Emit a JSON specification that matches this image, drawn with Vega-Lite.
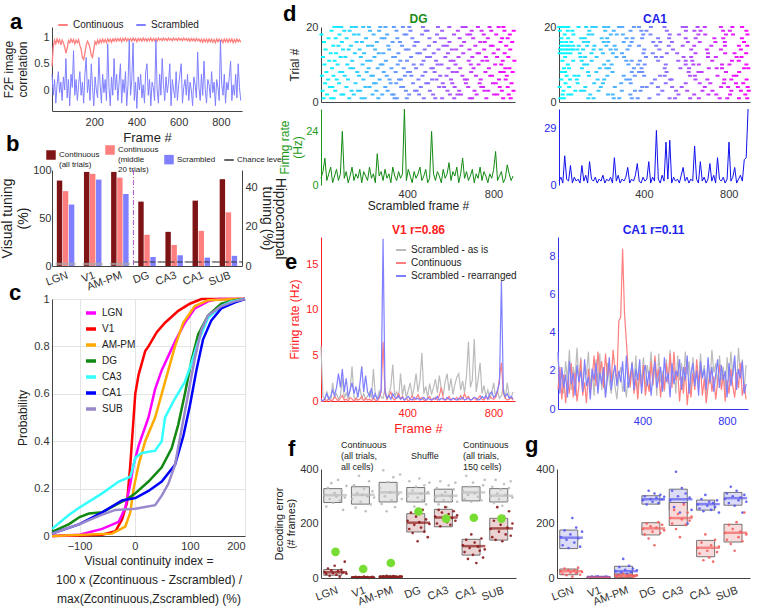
{"$schema":"https://vega.github.io/schema/vega-lite/v6.json","background":"white","padding":{"left":0,"top":3,"right":0,"bottom":0},
"config":{"font":"Liberation Sans","view":{"stroke":null},"axis":{"grid":false,"ticks":false,"labelFontSize":11,"titleFontSize":12,"titleFontWeight":"normal","domainColor":"#444","tickColor":"#444","labelColor":"#333","titleColor":"#222","labelPadding":3,"titlePadding":4},"legend":{"labelFontSize":10,"labelColor":"#222"},"title":{"fontSize":22,"fontWeight":"bold","anchor":"start","frame":"group","color":"#000","baseline":"alphabetic","offset":0}},
"datasets":{
"a":[{"f":0,"c":0.45,"s":0.3},{"f":6,"c":0.82,"s":-0.1},{"f":12,"c":0.95,"s":0.2},{"f":18,"c":0.88,"s":-0.25},{"f":24,"c":0.97,"s":0.1},{"f":30,"c":0.9,"s":0.35},{"f":36,"c":0.96,"s":-0.05},{"f":42,"c":0.86,"s":0.15},{"f":48,"c":0.95,"s":-0.2},{"f":54,"c":0.9,"s":0.25},{"f":60,"c":0.82,"s":0},{"f":66,"c":0.7,"s":0.6},{"f":72,"c":0.8,"s":-0.15},{"f":78,"c":0.94,"s":0.2},{"f":84,"c":0.9,"s":-0.3},{"f":90,"c":0.97,"s":0.3},{"f":96,"c":0.91,"s":0.05},{"f":102,"c":0.96,"s":0.75},{"f":108,"c":0.88,"s":-0.1},{"f":114,"c":0.95,"s":0.2},{"f":120,"c":0.9,"s":-0.2},{"f":126,"c":0.96,"s":0.1},{"f":132,"c":0.85,"s":0.35},{"f":138,"c":0.78,"s":-0.1},{"f":144,"c":0.62,"s":0.15},{"f":150,"c":0.58,"s":-0.25},{"f":156,"c":0.7,"s":0.3},{"f":162,"c":0.86,"s":0.62},{"f":168,"c":0.93,"s":-0.05},{"f":174,"c":0.88,"s":0.2},{"f":180,"c":0.8,"s":-0.2},{"f":186,"c":0.66,"s":0.5},{"f":192,"c":0.62,"s":0.05},{"f":198,"c":0.78,"s":-0.3},{"f":204,"c":0.92,"s":0.25},{"f":210,"c":0.87,"s":0},{"f":216,"c":0.95,"s":-0.15},{"f":222,"c":0.89,"s":0.62},{"f":228,"c":0.96,"s":0.1},{"f":234,"c":0.9,"s":-0.25},{"f":240,"c":0.97,"s":0.3},{"f":246,"c":0.91,"s":-0.05},{"f":252,"c":0.96,"s":0.2},{"f":258,"c":0.9,"s":-0.2},{"f":264,"c":0.97,"s":0.88},{"f":270,"c":0.92,"s":0.05},{"f":276,"c":0.97,"s":-0.3},{"f":282,"c":0.91,"s":0.25},{"f":288,"c":0.97,"s":-0.1},{"f":294,"c":0.93,"s":0.6},{"f":300,"c":0.98,"s":0},{"f":306,"c":0.93,"s":0.3},{"f":312,"c":0.98,"s":-0.2},{"f":318,"c":0.94,"s":0.15},{"f":324,"c":0.98,"s":0.5},{"f":330,"c":0.92,"s":-0.25},{"f":336,"c":0.98,"s":0.2},{"f":342,"c":0.94,"s":-0.05},{"f":348,"c":0.99,"s":0.35},{"f":354,"c":0.93,"s":-0.3},{"f":360,"c":0.98,"s":0.1},{"f":366,"c":0.94,"s":0.95},{"f":372,"c":0.98,"s":-0.1},{"f":378,"c":0.93,"s":0.2},{"f":384,"c":0.99,"s":0.9},{"f":390,"c":0.94,"s":-0.2},{"f":396,"c":0.98,"s":0.15},{"f":402,"c":0.92,"s":-0.35},{"f":408,"c":0.98,"s":0.25},{"f":414,"c":0.94,"s":0},{"f":420,"c":0.98,"s":0.3},{"f":426,"c":0.93,"s":-0.15},{"f":432,"c":0.99,"s":0.1},{"f":438,"c":0.94,"s":-0.25},{"f":444,"c":0.98,"s":0.35},{"f":450,"c":0.93,"s":0.5},{"f":456,"c":0.98,"s":-0.1},{"f":462,"c":0.94,"s":0.2},{"f":468,"c":0.99,"s":-0.3},{"f":474,"c":0.93,"s":0.15},{"f":480,"c":0.98,"s":0.05},{"f":486,"c":0.94,"s":-0.2},{"f":492,"c":0.98,"s":0.95},{"f":498,"c":0.93,"s":0},{"f":504,"c":0.99,"s":-0.25},{"f":510,"c":0.95,"s":0.3},{"f":516,"c":0.98,"s":-0.1},{"f":522,"c":0.94,"s":0.6},{"f":528,"c":0.99,"s":0.1},{"f":534,"c":0.95,"s":-0.2},{"f":540,"c":0.98,"s":0.25},{"f":546,"c":0.94,"s":-0.05},{"f":552,"c":0.99,"s":0.15},{"f":558,"c":0.95,"s":0.5},{"f":564,"c":0.98,"s":-0.3},{"f":570,"c":0.94,"s":0.2},{"f":576,"c":0.99,"s":0},{"f":582,"c":0.95,"s":-0.15},{"f":588,"c":0.98,"s":0.35},{"f":594,"c":0.94,"s":-0.2},{"f":600,"c":0.99,"s":0.1},{"f":606,"c":0.95,"s":0.3},{"f":612,"c":0.98,"s":0.5},{"f":618,"c":0.94,"s":-0.25},{"f":624,"c":0.99,"s":0.05},{"f":630,"c":0.95,"s":0.2},{"f":636,"c":0.98,"s":-0.1},{"f":642,"c":0.94,"s":0.3},{"f":648,"c":0.98,"s":-0.2},{"f":654,"c":0.93,"s":0.15},{"f":660,"c":0.98,"s":0},{"f":666,"c":0.94,"s":-0.3},{"f":672,"c":0.98,"s":0.25},{"f":678,"c":0.93,"s":0.1},{"f":684,"c":0.98,"s":-0.15},{"f":690,"c":0.94,"s":0.72},{"f":696,"c":0.97,"s":0.05},{"f":702,"c":0.92,"s":-0.2},{"f":708,"c":0.97,"s":0.3},{"f":714,"c":0.91,"s":-0.1},{"f":720,"c":0.97,"s":0.55},{"f":726,"c":0.92,"s":0},{"f":732,"c":0.97,"s":-0.25},{"f":738,"c":0.91,"s":0.2},{"f":744,"c":0.97,"s":0.1},{"f":750,"c":0.92,"s":-0.15},{"f":756,"c":0.97,"s":0.35},{"f":762,"c":0.91,"s":-0.05},{"f":768,"c":0.96,"s":0.15},{"f":774,"c":0.9,"s":-0.3},{"f":780,"c":0.97,"s":0.2},{"f":786,"c":0.92,"s":0.05},{"f":792,"c":0.97,"s":-0.2},{"f":798,"c":0.91,"s":0.95},{"f":804,"c":0.96,"s":0.1},{"f":810,"c":0.9,"s":-0.1},{"f":816,"c":0.97,"s":0.3},{"f":822,"c":0.92,"s":-0.25},{"f":828,"c":0.97,"s":0.15},{"f":834,"c":0.91,"s":0},{"f":840,"c":0.97,"s":0.25},{"f":846,"c":0.92,"s":0.55},{"f":852,"c":0.97,"s":-0.2},{"f":858,"c":0.9,"s":0.1},{"f":864,"c":0.96,"s":-0.1},{"f":870,"c":0.91,"s":0.3},{"f":876,"c":0.97,"s":-0.15},{"f":882,"c":0.92,"s":0.5},{"f":888,"c":0.96,"s":0.05},{"f":894,"c":0.91,"s":-0.2}],
"bv":[{"r":"LGN","k":"ca","v":89},{"r":"LGN","k":"cm","v":78},{"r":"LGN","k":"sc","v":64},{"r":"V1","k":"ca","v":98},{"r":"V1","k":"cm","v":96},{"r":"V1","k":"sc","v":90},{"r":"AM-PM","k":"ca","v":98},{"r":"AM-PM","k":"cm","v":92},{"r":"AM-PM","k":"sc","v":75}],
"bh":[{"r":"DG","k":"ca","v":33},{"r":"DG","k":"cm","v":16},{"r":"DG","k":"sc","v":4.6},{"r":"CA3","k":"ca","v":17.5},{"r":"CA3","k":"cm","v":10.8},{"r":"CA3","k":"sc","v":5.5},{"r":"CA1","k":"ca","v":33.5},{"r":"CA1","k":"cm","v":18},{"r":"CA1","k":"sc","v":4.3},{"r":"SUB","k":"ca","v":44.5},{"r":"SUB","k":"cm","v":27.5},{"r":"SUB","k":"sc","v":5.2}],
"c":[{"r":"V1","x":-150,"p":0},{"r":"V1","x":-100,"p":0.002},{"r":"V1","x":-59,"p":0.005},{"r":"V1","x":-35,"p":0.02},{"r":"V1","x":-23,"p":0.07},{"r":"V1","x":-14,"p":0.14},{"r":"V1","x":-8,"p":0.3},{"r":"V1","x":-2,"p":0.5},{"r":"V1","x":1,"p":0.6},{"r":"V1","x":7,"p":0.68},{"r":"V1","x":19,"p":0.78},{"r":"V1","x":25,"p":0.8},{"r":"V1","x":40,"p":0.86},{"r":"V1","x":55,"p":0.9},{"r":"V1","x":79,"p":0.95},{"r":"V1","x":100,"p":0.98},{"r":"V1","x":121,"p":1},{"r":"V1","x":200,"p":1},
{"r":"LGN","x":-150,"p":0},{"r":"LGN","x":-100,"p":0.005},{"r":"LGN","x":-59,"p":0.03},{"r":"LGN","x":-29,"p":0.06},{"r":"LGN","x":-17,"p":0.12},{"r":"LGN","x":-8,"p":0.22},{"r":"LGN","x":-2,"p":0.3},{"r":"LGN","x":7,"p":0.38},{"r":"LGN","x":25,"p":0.5},{"r":"LGN","x":37,"p":0.62},{"r":"LGN","x":49,"p":0.7},{"r":"LGN","x":73,"p":0.82},{"r":"LGN","x":91,"p":0.9},{"r":"LGN","x":109,"p":0.96},{"r":"LGN","x":133,"p":0.99},{"r":"LGN","x":151,"p":1},{"r":"LGN","x":200,"p":1},
{"r":"AM-PM","x":-150,"p":0},{"r":"AM-PM","x":-41,"p":0.01},{"r":"AM-PM","x":-17,"p":0.04},{"r":"AM-PM","x":-8,"p":0.1},{"r":"AM-PM","x":-2,"p":0.2},{"r":"AM-PM","x":7,"p":0.3},{"r":"AM-PM","x":19,"p":0.4},{"r":"AM-PM","x":37,"p":0.5},{"r":"AM-PM","x":55,"p":0.65},{"r":"AM-PM","x":73,"p":0.8},{"r":"AM-PM","x":88,"p":0.9},{"r":"AM-PM","x":109,"p":0.97},{"r":"AM-PM","x":133,"p":0.995},{"r":"AM-PM","x":181,"p":1},{"r":"AM-PM","x":200,"p":1},
{"r":"DG","x":-150,"p":0.017},{"r":"DG","x":-119,"p":0.05},{"r":"DG","x":-100,"p":0.08},{"r":"DG","x":-83,"p":0.095},{"r":"DG","x":-59,"p":0.1},{"r":"DG","x":-35,"p":0.13},{"r":"DG","x":-11,"p":0.16},{"r":"DG","x":1,"p":0.18},{"r":"DG","x":25,"p":0.23},{"r":"DG","x":49,"p":0.29},{"r":"DG","x":67,"p":0.37},{"r":"DG","x":79,"p":0.47},{"r":"DG","x":91,"p":0.6},{"r":"DG","x":103,"p":0.74},{"r":"DG","x":115,"p":0.85},{"r":"DG","x":133,"p":0.93},{"r":"DG","x":157,"p":0.98},{"r":"DG","x":181,"p":0.995},{"r":"DG","x":200,"p":1},
{"r":"CA3","x":-150,"p":0.03},{"r":"CA3","x":-119,"p":0.09},{"r":"CA3","x":-100,"p":0.12},{"r":"CA3","x":-59,"p":0.18},{"r":"CA3","x":-29,"p":0.23},{"r":"CA3","x":-8,"p":0.25},{"r":"CA3","x":-2,"p":0.3},{"r":"CA3","x":1,"p":0.33},{"r":"CA3","x":13,"p":0.35},{"r":"CA3","x":37,"p":0.36},{"r":"CA3","x":49,"p":0.4},{"r":"CA3","x":55,"p":0.5},{"r":"CA3","x":73,"p":0.58},{"r":"CA3","x":91,"p":0.65},{"r":"CA3","x":103,"p":0.73},{"r":"CA3","x":115,"p":0.82},{"r":"CA3","x":133,"p":0.92},{"r":"CA3","x":157,"p":0.97},{"r":"CA3","x":175,"p":0.99},{"r":"CA3","x":200,"p":1},
{"r":"CA1","x":-150,"p":0.01},{"r":"CA1","x":-100,"p":0.05},{"r":"CA1","x":-59,"p":0.1},{"r":"CA1","x":-23,"p":0.15},{"r":"CA1","x":1,"p":0.16},{"r":"CA1","x":25,"p":0.19},{"r":"CA1","x":49,"p":0.23},{"r":"CA1","x":73,"p":0.3},{"r":"CA1","x":88,"p":0.42},{"r":"CA1","x":100,"p":0.55},{"r":"CA1","x":112,"p":0.7},{"r":"CA1","x":124,"p":0.83},{"r":"CA1","x":139,"p":0.91},{"r":"CA1","x":157,"p":0.96},{"r":"CA1","x":181,"p":0.985},{"r":"CA1","x":200,"p":1},
{"r":"SUB","x":-150,"p":0.01},{"r":"SUB","x":-100,"p":0.05},{"r":"SUB","x":-59,"p":0.09},{"r":"SUB","x":-35,"p":0.11},{"r":"SUB","x":1,"p":0.115},{"r":"SUB","x":37,"p":0.13},{"r":"SUB","x":49,"p":0.17},{"r":"SUB","x":61,"p":0.22},{"r":"SUB","x":73,"p":0.3},{"r":"SUB","x":85,"p":0.45},{"r":"SUB","x":97,"p":0.6},{"r":"SUB","x":109,"p":0.75},{"r":"SUB","x":121,"p":0.87},{"r":"SUB","x":133,"p":0.93},{"r":"SUB","x":157,"p":0.97},{"r":"SUB","x":181,"p":0.99},{"r":"SUB","x":200,"p":1}],
"dgr":[{"t":1,"f":12},{"t":1,"f":47},{"t":1,"f":59},{"t":1,"f":131},{"t":1,"f":188},{"t":1,"f":203},{"t":1,"f":266},{"t":1,"f":341},{"t":1,"f":352},{"t":1,"f":398},{"t":1,"f":477},{"t":1,"f":530},{"t":1,"f":562},{"t":1,"f":618},{"t":1,"f":690},{"t":1,"f":701},{"t":1,"f":767},{"t":1,"f":845},{"t":1,"f":880},
{"t":2,"f":28},{"t":2,"f":95},{"t":2,"f":104},{"t":2,"f":152},{"t":2,"f":239},{"t":2,"f":284},{"t":2,"f":330},{"t":2,"f":337},{"t":2,"f":409},{"t":2,"f":455},{"t":2,"f":520},{"t":2,"f":598},{"t":2,"f":633},{"t":2,"f":649},{"t":2,"f":722},{"t":2,"f":803},{"t":2,"f":818},{"t":2,"f":871},
{"t":3,"f":7},{"t":3,"f":66},{"t":3,"f":142},{"t":3,"f":171},{"t":3,"f":182},{"t":3,"f":257},{"t":3,"f":309},{"t":3,"f":394},{"t":3,"f":436},{"t":3,"f":444},{"t":3,"f":505},{"t":3,"f":587},{"t":3,"f":641},{"t":3,"f":712},{"t":3,"f":758},{"t":3,"f":776},{"t":3,"f":839},{"t":3,"f":893},
{"t":4,"f":41},{"t":4,"f":53},{"t":4,"f":118},{"t":4,"f":206},{"t":4,"f":225},{"t":4,"f":298},{"t":4,"f":372},{"t":4,"f":381},{"t":4,"f":463},{"t":4,"f":548},{"t":4,"f":571},{"t":4,"f":620},{"t":4,"f":683},{"t":4,"f":744},{"t":4,"f":752},{"t":4,"f":829},{"t":4,"f":866},
{"t":5,"f":19},{"t":5,"f":84},{"t":5,"f":160},{"t":5,"f":246},{"t":5,"f":254},{"t":5,"f":323},{"t":5,"f":349},{"t":5,"f":427},{"t":5,"f":488},{"t":5,"f":497},{"t":5,"f":565},{"t":5,"f":609},{"t":5,"f":672},{"t":5,"f":736},{"t":5,"f":798},{"t":5,"f":811},{"t":5,"f":884},
{"t":6,"f":33},{"t":6,"f":73},{"t":6,"f":125},{"t":6,"f":197},{"t":6,"f":272},{"t":6,"f":318},{"t":6,"f":362},{"t":6,"f":371},{"t":6,"f":452},{"t":6,"f":515},{"t":6,"f":536},{"t":6,"f":603},{"t":6,"f":667},{"t":6,"f":677},{"t":6,"f":741},{"t":6,"f":826},{"t":6,"f":857},
{"t":7,"f":4},{"t":7,"f":58},{"t":7,"f":110},{"t":7,"f":176},{"t":7,"f":234},{"t":7,"f":241},{"t":7,"f":305},{"t":7,"f":389},{"t":7,"f":419},{"t":7,"f":471},{"t":7,"f":553},{"t":7,"f":582},{"t":7,"f":656},{"t":7,"f":719},{"t":7,"f":785},{"t":7,"f":794},{"t":7,"f":862},
{"t":8,"f":25},{"t":8,"f":89},{"t":8,"f":99},{"t":8,"f":168},{"t":8,"f":212},{"t":8,"f":291},{"t":8,"f":346},{"t":8,"f":403},{"t":8,"f":413},{"t":8,"f":484},{"t":8,"f":527},{"t":8,"f":611},{"t":8,"f":630},{"t":8,"f":697},{"t":8,"f":763},{"t":8,"f":832},{"t":8,"f":848},{"t":8,"f":889},
{"t":9,"f":51},{"t":9,"f":136},{"t":9,"f":149},{"t":9,"f":221},{"t":9,"f":263},{"t":9,"f":327},{"t":9,"f":384},{"t":9,"f":441},{"t":9,"f":512},{"t":9,"f":519},{"t":9,"f":591},{"t":9,"f":646},{"t":9,"f":708},{"t":9,"f":779},{"t":9,"f":855},{"t":9,"f":874},
{"t":10,"f":16},{"t":10,"f":77},{"t":10,"f":122},{"t":10,"f":193},{"t":10,"f":277},{"t":10,"f":285},{"t":10,"f":356},{"t":10,"f":430},{"t":10,"f":467},{"t":10,"f":541},{"t":10,"f":559},{"t":10,"f":624},{"t":10,"f":695},{"t":10,"f":731},{"t":10,"f":808},{"t":10,"f":836},
{"t":11,"f":38},{"t":11,"f":63},{"t":11,"f":145},{"t":11,"f":214},{"t":11,"f":230},{"t":11,"f":301},{"t":11,"f":368},{"t":11,"f":399},{"t":11,"f":476},{"t":11,"f":534},{"t":11,"f":601},{"t":11,"f":615},{"t":11,"f":685},{"t":11,"f":749},{"t":11,"f":771},{"t":11,"f":843},{"t":11,"f":897},
{"t":12,"f":9},{"t":12,"f":91},{"t":12,"f":113},{"t":12,"f":185},{"t":12,"f":248},{"t":12,"f":335},{"t":12,"f":343},{"t":12,"f":418},{"t":12,"f":492},{"t":12,"f":506},{"t":12,"f":577},{"t":12,"f":638},{"t":12,"f":702},{"t":12,"f":765},{"t":12,"f":817},{"t":12,"f":869},
{"t":13,"f":45},{"t":13,"f":70},{"t":13,"f":157},{"t":13,"f":200},{"t":13,"f":268},{"t":13,"f":289},{"t":13,"f":359},{"t":13,"f":447},{"t":13,"f":459},{"t":13,"f":523},{"t":13,"f":589},{"t":13,"f":660},{"t":13,"f":726},{"t":13,"f":733},{"t":13,"f":801},{"t":13,"f":852},
{"t":14,"f":21},{"t":14,"f":102},{"t":14,"f":128},{"t":14,"f":179},{"t":14,"f":251},{"t":14,"f":316},{"t":14,"f":393},{"t":14,"f":406},{"t":14,"f":481},{"t":14,"f":545},{"t":14,"f":607},{"t":14,"f":627},{"t":14,"f":689},{"t":14,"f":757},{"t":14,"f":822},{"t":14,"f":878},
{"t":15,"f":57},{"t":15,"f":81},{"t":15,"f":139},{"t":15,"f":218},{"t":15,"f":237},{"t":15,"f":312},{"t":15,"f":376},{"t":15,"f":433},{"t":15,"f":501},{"t":15,"f":568},{"t":15,"f":584},{"t":15,"f":651},{"t":15,"f":716},{"t":15,"f":788},{"t":15,"f":796},{"t":15,"f":859},
{"t":16,"f":14},{"t":16,"f":97},{"t":16,"f":165},{"t":16,"f":190},{"t":16,"f":259},{"t":16,"f":332},{"t":16,"f":366},{"t":16,"f":439},{"t":16,"f":449},{"t":16,"f":528},{"t":16,"f":596},{"t":16,"f":664},{"t":16,"f":739},{"t":16,"f":760},{"t":16,"f":833},{"t":16,"f":887},
{"t":17,"f":35},{"t":17,"f":68},{"t":17,"f":119},{"t":17,"f":209},{"t":17,"f":281},{"t":17,"f":295},{"t":17,"f":354},{"t":17,"f":424},{"t":17,"f":503},{"t":17,"f":556},{"t":17,"f":574},{"t":17,"f":643},{"t":17,"f":706},{"t":17,"f":774},{"t":17,"f":840},{"t":17,"f":866},
{"t":18,"f":2},{"t":18,"f":86},{"t":18,"f":153},{"t":18,"f":174},{"t":18,"f":244},{"t":18,"f":307},{"t":18,"f":387},{"t":18,"f":396},{"t":18,"f":469},{"t":18,"f":538},{"t":18,"f":617},{"t":18,"f":679},{"t":18,"f":692},{"t":18,"f":755},{"t":18,"f":813},{"t":18,"f":876},
{"t":19,"f":49},{"t":19,"f":108},{"t":19,"f":133},{"t":19,"f":227},{"t":19,"f":270},{"t":19,"f":350},{"t":19,"f":415},{"t":19,"f":486},{"t":19,"f":494},{"t":19,"f":562},{"t":19,"f":635},{"t":19,"f":699},{"t":19,"f":745},{"t":19,"f":790},{"t":19,"f":851},{"t":19,"f":894},
{"t":20,"f":62},{"t":20,"f":79},{"t":20,"f":94},{"t":20,"f":143},{"t":20,"f":162},{"t":20,"f":196},{"t":20,"f":223},{"t":20,"f":275},{"t":20,"f":299},{"t":20,"f":338},{"t":20,"f":380},{"t":20,"f":410},{"t":20,"f":473},{"t":20,"f":543},{"t":20,"f":595},{"t":20,"f":657},{"t":20,"f":671},{"t":20,"f":728},{"t":20,"f":782},{"t":20,"f":824},{"t":20,"f":846}],
"car":[{"t":1,"f":6},{"t":1,"f":23},{"t":1,"f":138},{"t":1,"f":163},{"t":1,"f":258},{"t":1,"f":284},{"t":1,"f":343},{"t":1,"f":371},{"t":1,"f":426},{"t":1,"f":521},{"t":1,"f":547},{"t":1,"f":618},{"t":1,"f":659},{"t":1,"f":757},{"t":1,"f":793},{"t":1,"f":848},{"t":1,"f":887},
{"t":2,"f":17},{"t":2,"f":44},{"t":2,"f":58},{"t":2,"f":147},{"t":2,"f":231},{"t":2,"f":253},{"t":2,"f":336},{"t":2,"f":468},{"t":2,"f":563},{"t":2,"f":637},{"t":2,"f":704},{"t":2,"f":741},{"t":2,"f":806},{"t":2,"f":878},
{"t":3,"f":21},{"t":3,"f":77},{"t":3,"f":103},{"t":3,"f":119},{"t":3,"f":186},{"t":3,"f":296},{"t":3,"f":358},{"t":3,"f":384},{"t":3,"f":487},{"t":3,"f":552},{"t":3,"f":604},{"t":3,"f":676},{"t":3,"f":723},{"t":3,"f":812},{"t":3,"f":857},{"t":3,"f":894},
{"t":4,"f":3},{"t":4,"f":48},{"t":4,"f":124},{"t":4,"f":197},{"t":4,"f":263},{"t":4,"f":392},{"t":4,"f":413},{"t":4,"f":466},{"t":4,"f":533},{"t":4,"f":578},{"t":4,"f":687},{"t":4,"f":764},{"t":4,"f":797},{"t":4,"f":843},{"t":4,"f":889},
{"t":5,"f":31},{"t":5,"f":88},{"t":5,"f":166},{"t":5,"f":207},{"t":5,"f":293},{"t":5,"f":338},{"t":5,"f":437},{"t":5,"f":503},{"t":5,"f":597},{"t":5,"f":663},{"t":5,"f":713},{"t":5,"f":777},{"t":5,"f":834},{"t":5,"f":868},
{"t":6,"f":11},{"t":6,"f":52},{"t":6,"f":84},{"t":6,"f":182},{"t":6,"f":213},{"t":6,"f":317},{"t":6,"f":334},{"t":6,"f":452},{"t":6,"f":524},{"t":6,"f":531},{"t":6,"f":643},{"t":6,"f":699},{"t":6,"f":779},{"t":6,"f":812},{"t":6,"f":884},
{"t":7,"f":36},{"t":7,"f":73},{"t":7,"f":92},{"t":7,"f":141},{"t":7,"f":228},{"t":7,"f":305},{"t":7,"f":357},{"t":7,"f":401},{"t":7,"f":476},{"t":7,"f":498},{"t":7,"f":617},{"t":7,"f":640},{"t":7,"f":747},{"t":7,"f":823},{"t":7,"f":836},
{"t":8,"f":13},{"t":8,"f":29},{"t":8,"f":137},{"t":8,"f":176},{"t":8,"f":252},{"t":8,"f":343},{"t":8,"f":377},{"t":8,"f":392},{"t":8,"f":507},{"t":8,"f":611},{"t":8,"f":657},{"t":8,"f":672},{"t":8,"f":787},{"t":8,"f":849},
{"t":9,"f":24},{"t":9,"f":47},{"t":9,"f":108},{"t":9,"f":192},{"t":9,"f":223},{"t":9,"f":236},{"t":9,"f":353},{"t":9,"f":389},{"t":9,"f":498},{"t":9,"f":572},{"t":9,"f":613},{"t":9,"f":706},{"t":9,"f":743},{"t":9,"f":768},{"t":9,"f":872},{"t":9,"f":892},
{"t":10,"f":42},{"t":10,"f":118},{"t":10,"f":133},{"t":10,"f":213},{"t":10,"f":248},{"t":10,"f":327},{"t":10,"f":373},{"t":10,"f":404},{"t":10,"f":503},{"t":10,"f":597},{"t":10,"f":633},{"t":10,"f":659},{"t":10,"f":768},{"t":10,"f":803},{"t":10,"f":883},
{"t":11,"f":16},{"t":11,"f":67},{"t":11,"f":107},{"t":11,"f":154},{"t":11,"f":232},{"t":11,"f":317},{"t":11,"f":342},{"t":11,"f":381},{"t":11,"f":467},{"t":11,"f":562},{"t":11,"f":597},{"t":11,"f":628},{"t":11,"f":722},{"t":11,"f":815},{"t":11,"f":847},
{"t":12,"f":29},{"t":12,"f":101},{"t":12,"f":123},{"t":12,"f":177},{"t":12,"f":271},{"t":12,"f":307},{"t":12,"f":410},{"t":12,"f":457},{"t":12,"f":484},{"t":12,"f":587},{"t":12,"f":623},{"t":12,"f":702},{"t":12,"f":739},{"t":12,"f":837},{"t":12,"f":860},
{"t":13,"f":3},{"t":13,"f":19},{"t":13,"f":37},{"t":13,"f":54},{"t":13,"f":98},{"t":13,"f":153},{"t":13,"f":207},{"t":13,"f":254},{"t":13,"f":297},{"t":13,"f":398},{"t":13,"f":442},{"t":13,"f":508},{"t":13,"f":557},{"t":13,"f":643},{"t":13,"f":702},{"t":13,"f":783},{"t":13,"f":827},{"t":13,"f":882},
{"t":14,"f":5},{"t":14,"f":17},{"t":14,"f":31},{"t":14,"f":43},{"t":14,"f":57},{"t":14,"f":68},{"t":14,"f":87},{"t":14,"f":113},{"t":14,"f":163},{"t":14,"f":197},{"t":14,"f":243},{"t":14,"f":268},{"t":14,"f":323},{"t":14,"f":402},{"t":14,"f":473},{"t":14,"f":537},{"t":14,"f":623},{"t":14,"f":697},{"t":14,"f":763},{"t":14,"f":857},
{"t":15,"f":9},{"t":15,"f":21},{"t":15,"f":38},{"t":15,"f":48},{"t":15,"f":67},{"t":15,"f":93},{"t":15,"f":133},{"t":15,"f":167},{"t":15,"f":223},{"t":15,"f":262},{"t":15,"f":333},{"t":15,"f":377},{"t":15,"f":458},{"t":15,"f":517},{"t":15,"f":583},{"t":15,"f":637},{"t":15,"f":718},{"t":15,"f":782},{"t":15,"f":848},{"t":15,"f":887},
{"t":16,"f":13},{"t":16,"f":34},{"t":16,"f":58},{"t":16,"f":117},{"t":16,"f":137},{"t":16,"f":211},{"t":16,"f":232},{"t":16,"f":305},{"t":16,"f":342},{"t":16,"f":444},{"t":16,"f":477},{"t":16,"f":532},{"t":16,"f":607},{"t":16,"f":663},{"t":16,"f":737},{"t":16,"f":781},{"t":16,"f":872},
{"t":17,"f":11},{"t":17,"f":43},{"t":17,"f":104},{"t":17,"f":122},{"t":17,"f":201},{"t":17,"f":227},{"t":17,"f":318},{"t":17,"f":347},{"t":17,"f":392},{"t":17,"f":467},{"t":17,"f":519},{"t":17,"f":597},{"t":17,"f":644},{"t":17,"f":732},{"t":17,"f":774},{"t":17,"f":862},
{"t":18,"f":27},{"t":18,"f":68},{"t":18,"f":139},{"t":18,"f":157},{"t":18,"f":244},{"t":18,"f":272},{"t":18,"f":301},{"t":18,"f":397},{"t":18,"f":431},{"t":18,"f":522},{"t":18,"f":566},{"t":18,"f":657},{"t":18,"f":689},{"t":18,"f":787},{"t":18,"f":820},{"t":18,"f":888},
{"t":19,"f":4},{"t":19,"f":41},{"t":19,"f":63},{"t":19,"f":143},{"t":19,"f":218},{"t":19,"f":258},{"t":19,"f":337},{"t":19,"f":388},{"t":19,"f":412},{"t":19,"f":508},{"t":19,"f":598},{"t":19,"f":638},{"t":19,"f":667},{"t":19,"f":773},{"t":19,"f":805},{"t":19,"f":883},
{"t":20,"f":1},{"t":20,"f":14},{"t":20,"f":32},{"t":20,"f":44},{"t":20,"f":92},{"t":20,"f":128},{"t":20,"f":157},{"t":20,"f":173},{"t":20,"f":213},{"t":20,"f":232},{"t":20,"f":283},{"t":20,"f":298},{"t":20,"f":353},{"t":20,"f":377},{"t":20,"f":433},{"t":20,"f":497},{"t":20,"f":583},{"t":20,"f":598},{"t":20,"f":653},{"t":20,"f":687},{"t":20,"f":763},{"t":20,"f":817},{"t":20,"f":863}],
"dr":[{"f":0,"dg":3,"ca":2},{"f":9,"dg":6,"ca":4},{"f":18,"dg":12,"ca":1},{"f":27,"dg":2,"ca":15},{"f":36,"dg":5,"ca":3},{"f":45,"dg":8,"ca":2},{"f":54,"dg":1,"ca":10},{"f":63,"dg":4,"ca":1},{"f":72,"dg":7,"ca":4},{"f":81,"dg":2,"ca":2},{"f":90,"dg":5,"ca":3},{"f":99,"dg":24,"ca":1},{"f":108,"dg":3,"ca":10},{"f":117,"dg":6,"ca":2},{"f":126,"dg":1,"ca":5},{"f":135,"dg":4,"ca":1},{"f":144,"dg":8,"ca":12},{"f":153,"dg":2,"ca":3},{"f":162,"dg":5,"ca":2},{"f":171,"dg":3,"ca":4},{"f":180,"dg":7,"ca":1},{"f":189,"dg":1,"ca":3},{"f":198,"dg":6,"ca":2},{"f":207,"dg":4,"ca":5},{"f":216,"dg":2,"ca":1},{"f":225,"dg":8,"ca":3},{"f":234,"dg":3,"ca":2},{"f":243,"dg":5,"ca":4},{"f":252,"dg":1,"ca":1},{"f":261,"dg":14,"ca":14},{"f":270,"dg":4,"ca":2},{"f":279,"dg":6,"ca":5},{"f":288,"dg":2,"ca":1},{"f":297,"dg":7,"ca":3},{"f":306,"dg":3,"ca":2},{"f":315,"dg":5,"ca":4},{"f":324,"dg":1,"ca":9},{"f":333,"dg":8,"ca":1},{"f":342,"dg":4,"ca":3},{"f":351,"dg":2,"ca":2},{"f":360,"dg":6,"ca":5},{"f":369,"dg":3,"ca":11},{"f":378,"dg":5,"ca":2},{"f":387,"dg":34,"ca":1},{"f":396,"dg":2,"ca":4},{"f":405,"dg":7,"ca":2},{"f":414,"dg":4,"ca":3},{"f":423,"dg":1,"ca":12},{"f":432,"dg":6,"ca":1},{"f":441,"dg":3,"ca":4},{"f":450,"dg":5,"ca":2},{"f":459,"dg":8,"ca":28},{"f":468,"dg":2,"ca":3},{"f":477,"dg":4,"ca":1},{"f":486,"dg":7,"ca":5},{"f":495,"dg":1,"ca":2},{"f":504,"dg":3,"ca":22},{"f":513,"dg":24,"ca":3},{"f":522,"dg":5,"ca":23},{"f":531,"dg":2,"ca":1},{"f":540,"dg":6,"ca":4},{"f":549,"dg":4,"ca":2},{"f":558,"dg":1,"ca":3},{"f":567,"dg":7,"ca":1},{"f":576,"dg":3,"ca":5},{"f":585,"dg":5,"ca":9},{"f":594,"dg":10,"ca":2},{"f":603,"dg":2,"ca":4},{"f":612,"dg":6,"ca":1},{"f":621,"dg":4,"ca":3},{"f":630,"dg":8,"ca":2},{"f":639,"dg":1,"ca":20},{"f":648,"dg":5,"ca":3},{"f":657,"dg":12,"ca":1},{"f":666,"dg":3,"ca":12},{"f":675,"dg":6,"ca":2},{"f":684,"dg":2,"ca":4},{"f":693,"dg":4,"ca":1},{"f":702,"dg":7,"ca":3},{"f":711,"dg":1,"ca":11},{"f":720,"dg":5,"ca":2},{"f":729,"dg":3,"ca":5},{"f":738,"dg":8,"ca":1},{"f":747,"dg":2,"ca":14},{"f":756,"dg":6,"ca":3},{"f":765,"dg":4,"ca":2},{"f":774,"dg":1,"ca":4},{"f":783,"dg":5,"ca":1},{"f":792,"dg":3,"ca":3},{"f":801,"dg":7,"ca":22},{"f":810,"dg":15,"ca":2},{"f":819,"dg":2,"ca":4},{"f":828,"dg":4,"ca":9},{"f":837,"dg":6,"ca":1},{"f":846,"dg":1,"ca":3},{"f":855,"dg":3,"ca":5},{"f":864,"dg":9,"ca":2},{"f":873,"dg":5,"ca":13},{"f":882,"dg":2,"ca":14},{"f":891,"dg":4,"ca":39}],
"ev":[{"f":0,"g":6,"r":0.1,"b":0.2},{"f":9,"g":0.5,"r":0,"b":0},{"f":18,"g":0.2,"r":0.2,"b":0.3},{"f":27,"g":1,"r":0,"b":0.8},{"f":36,"g":0.3,"r":0.3,"b":0.2},{"f":45,"g":0,"r":0,"b":0.5},{"f":54,"g":2,"r":0.1,"b":1.2},{"f":63,"g":0.4,"r":0.5,"b":0.6},{"f":72,"g":0.8,"r":0.2,"b":1.5},{"f":81,"g":0.2,"r":0,"b":3},{"f":90,"g":0.6,"r":0.3,"b":1.5},{"f":99,"g":2.5,"r":0.6,"b":3.5},{"f":108,"g":0.3,"r":0.1,"b":1},{"f":117,"g":0.9,"r":0.2,"b":2.5},{"f":126,"g":0.2,"r":0,"b":0.5},{"f":135,"g":1.2,"r":0.4,"b":1.2},{"f":144,"g":3.8,"r":0.2,"b":2},{"f":153,"g":0.4,"r":0,"b":0.8},{"f":162,"g":0.1,"r":0.3,"b":1.6},{"f":171,"g":0.7,"r":0.1,"b":0.4},{"f":180,"g":1.5,"r":0.2,"b":1.8},{"f":189,"g":0.3,"r":0.5,"b":3.8},{"f":198,"g":0.8,"r":0,"b":1},{"f":207,"g":0.2,"r":0.3,"b":2.8},{"f":216,"g":0.5,"r":0.1,"b":1},{"f":225,"g":1,"r":0.2,"b":0.5},{"f":234,"g":0.3,"r":0,"b":1.4},{"f":243,"g":3.5,"r":0.4,"b":0.3},{"f":252,"g":0.6,"r":0.1,"b":0.8},{"f":261,"g":0.2,"r":0,"b":0.2},{"f":270,"g":1.1,"r":0.3,"b":0.5},{"f":279,"g":0.4,"r":1,"b":1.2},{"f":288,"g":0.3,"r":6.5,"b":17.8},{"f":297,"g":1.4,"r":0.8,"b":1},{"f":306,"g":0.2,"r":0.2,"b":0.3},{"f":315,"g":0.8,"r":0.5,"b":0.6},{"f":324,"g":1.6,"r":1,"b":0.2},{"f":333,"g":4,"r":0.3,"b":0.8},{"f":342,"g":0.5,"r":0.1,"b":0.4},{"f":351,"g":1,"r":0.4,"b":0.3},{"f":360,"g":0.3,"r":0.8,"b":0.6},{"f":369,"g":3,"r":0.2,"b":0.2},{"f":378,"g":0.6,"r":0.5,"b":0.4},{"f":387,"g":1.8,"r":0.1,"b":0.1},{"f":396,"g":0.4,"r":0.3,"b":0.3},{"f":405,"g":1.2,"r":0,"b":0.5},{"f":414,"g":2,"r":0.2,"b":0.2},{"f":423,"g":0.5,"r":0.6,"b":0.1},{"f":432,"g":1.5,"r":0.1,"b":0.4},{"f":441,"g":3,"r":0.3,"b":0.2},{"f":450,"g":1,"r":0.7,"b":0.3},{"f":459,"g":2.2,"r":0.2,"b":0.1},{"f":468,"g":5.3,"r":0.4,"b":0.2},{"f":477,"g":0.8,"r":0.1,"b":0.4},{"f":486,"g":1.6,"r":0,"b":0.1},{"f":495,"g":0.4,"r":0.3,"b":0.3},{"f":504,"g":1.9,"r":0.5,"b":0.2},{"f":513,"g":0.7,"r":0.1,"b":0.1},{"f":522,"g":1.5,"r":0.2,"b":0.3},{"f":531,"g":2.4,"r":0.4,"b":0.2},{"f":540,"g":0.9,"r":0.1,"b":0.5},{"f":549,"g":2.8,"r":0.6,"b":0.1},{"f":558,"g":1.3,"r":1.5,"b":0.3},{"f":567,"g":0.6,"r":0.3,"b":0.2},{"f":576,"g":2.1,"r":0.1,"b":0.1},{"f":585,"g":3,"r":0.2,"b":0.4},{"f":594,"g":1.1,"r":0.5,"b":0.2},{"f":603,"g":2.5,"r":0.1,"b":0.1},{"f":612,"g":0.7,"r":0.3,"b":0.3},{"f":621,"g":1.8,"r":0.2,"b":0.2},{"f":630,"g":2.6,"r":0.4,"b":0.1},{"f":639,"g":3,"r":0.1,"b":0.3},{"f":648,"g":1.2,"r":0.6,"b":0.2},{"f":657,"g":2.2,"r":0.2,"b":0.4},{"f":666,"g":0.9,"r":0.8,"b":0.1},{"f":675,"g":2.8,"r":0.3,"b":0.2},{"f":684,"g":6.5,"r":0.5,"b":0.3},{"f":693,"g":1.5,"r":0.1,"b":0.1},{"f":702,"g":2.3,"r":0.2,"b":0.2},{"f":711,"g":6.8,"r":0.4,"b":0.4},{"f":720,"g":1,"r":0.1,"b":0.3},{"f":729,"g":2.4,"r":0.3,"b":0.1},{"f":738,"g":4.2,"r":0.6,"b":0.2},{"f":747,"g":0.8,"r":0.2,"b":0.5},{"f":756,"g":1.7,"r":0.1,"b":0.3},{"f":765,"g":0.5,"r":0.4,"b":0.6},{"f":774,"g":1.2,"r":0.2,"b":0.2},{"f":783,"g":0.3,"r":0.5,"b":0.8},{"f":792,"g":0.9,"r":0.3,"b":1},{"f":801,"g":2,"r":0.2,"b":0.4},{"f":810,"g":0.4,"r":0.4,"b":0.6},{"f":819,"g":1.1,"r":1,"b":1.2},{"f":828,"g":0.3,"r":2.5,"b":2},{"f":837,"g":0.6,"r":4.2,"b":13.2},{"f":846,"g":1.5,"r":0.8,"b":1},{"f":855,"g":0.2,"r":0.3,"b":0.5},{"f":864,"g":2,"r":0.1,"b":0.8},{"f":873,"g":0.5,"r":0.2,"b":0.3},{"f":882,"g":0.3,"r":0.4,"b":0.5},{"f":891,"g":1,"r":0.1,"b":0.2}],
"ec":[{"f":0,"g":2.8,"r":1,"b":3},{"f":9,"g":1.2,"r":2.2,"b":0.8},{"f":18,"g":2,"r":0.5,"b":2.2},{"f":27,"g":0.8,"r":1.8,"b":1.1},{"f":36,"g":2.5,"r":0.3,"b":1.8},{"f":45,"g":1.5,"r":1.5,"b":0.6},{"f":54,"g":3.1,"r":0.8,"b":2.5},{"f":63,"g":1,"r":2.4,"b":1.3},{"f":72,"g":2.2,"r":0.6,"b":1.9},{"f":81,"g":1.6,"r":1.9,"b":0.7},{"f":90,"g":3.2,"r":0.4,"b":2.3},{"f":99,"g":1.4,"r":1.2,"b":1.4},{"f":108,"g":2.7,"r":2.6,"b":2},{"f":117,"g":0.9,"r":0.7,"b":0.9},{"f":126,"g":2.3,"r":1.4,"b":2.6},{"f":135,"g":1.8,"r":0.3,"b":1.2},{"f":144,"g":3,"r":2.1,"b":1.7},{"f":153,"g":1.1,"r":0.9,"b":0.5},{"f":162,"g":2.1,"r":1.6,"b":2.1},{"f":171,"g":0.7,"r":2.8,"b":1.5},{"f":180,"g":2.6,"r":1.2,"b":2.4},{"f":189,"g":1.3,"r":3,"b":0.8},{"f":198,"g":2.9,"r":1.8,"b":1.9},{"f":207,"g":1,"r":2.5,"b":1.3},{"f":216,"g":1.9,"r":1.1,"b":2.2},{"f":225,"g":0.6,"r":2.9,"b":0.6},{"f":234,"g":2.4,"r":1.7,"b":1.6},{"f":243,"g":1.5,"r":2.2,"b":2.7},{"f":252,"g":0.8,"r":1.4,"b":1},{"f":261,"g":2,"r":3.1,"b":1.8},{"f":270,"g":1.2,"r":2,"b":2.3},{"f":279,"g":0.5,"r":1.5,"b":1.2},{"f":288,"g":1.7,"r":4.6,"b":2},{"f":297,"g":2.2,"r":4.8,"b":1.4},{"f":306,"g":0.9,"r":8.4,"b":2.5},{"f":315,"g":1.4,"r":5,"b":0.9},{"f":324,"g":0.6,"r":3.5,"b":2.8},{"f":333,"g":1.9,"r":2,"b":1.1},{"f":342,"g":1.1,"r":1.2,"b":1.7},{"f":351,"g":2.5,"r":2.4,"b":2.4},{"f":360,"g":1.3,"r":0.8,"b":1},{"f":369,"g":2.8,"r":1.6,"b":2.1},{"f":378,"g":0.8,"r":0.5,"b":1.5},{"f":387,"g":2.1,"r":1.9,"b":2.6},{"f":396,"g":1.5,"r":1.1,"b":0.8},{"f":405,"g":2.7,"r":2.3,"b":1.9},{"f":414,"g":1,"r":0.7,"b":2.3},{"f":423,"g":2.3,"r":1.5,"b":1.2},{"f":432,"g":1.6,"r":0.9,"b":2},{"f":441,"g":3,"r":2.5,"b":0.7},{"f":450,"g":1.2,"r":1.3,"b":1.8},{"f":459,"g":2.4,"r":2.8,"b":2.5},{"f":468,"g":0.7,"r":1.6,"b":1.1},{"f":477,"g":2.9,"r":2.1,"b":1.6},{"f":486,"g":1.4,"r":0.6,"b":2.2},{"f":495,"g":2,"r":1.8,"b":0.9},{"f":504,"g":0.9,"r":1,"b":2.7},{"f":513,"g":2.6,"r":2.4,"b":1.4},{"f":522,"g":1.3,"r":1.4,"b":1.9},{"f":531,"g":3.1,"r":2.9,"b":0.6},{"f":540,"g":1.7,"r":1.1,"b":2.4},{"f":549,"g":2.2,"r":3,"b":1.3},{"f":558,"g":0.8,"r":1.5,"b":2},{"f":567,"g":2.8,"r":2,"b":1.7},{"f":576,"g":1.5,"r":0.4,"b":2.6},{"f":585,"g":2.4,"r":1.7,"b":1},{"f":594,"g":1.1,"r":0.8,"b":2.2},{"f":603,"g":3,"r":2.2,"b":1.5},{"f":612,"g":1.8,"r":0.2,"b":2.8},{"f":621,"g":2.5,"r":1.3,"b":0.8},{"f":630,"g":0.9,"r":0.6,"b":1.9},{"f":639,"g":2.7,"r":1.9,"b":2.4},{"f":648,"g":1.4,"r":1,"b":1.2},{"f":657,"g":2.1,"r":2.6,"b":2},{"f":666,"g":1,"r":1.4,"b":0.7},{"f":675,"g":2.9,"r":2.2,"b":2.5},{"f":684,"g":1.6,"r":0.7,"b":1.6},{"f":693,"g":2.3,"r":1.6,"b":2.1},{"f":702,"g":0.7,"r":0.3,"b":1},{"f":711,"g":2.6,"r":1.2,"b":2.7},{"f":720,"g":1.3,"r":2,"b":1.4},{"f":729,"g":3.1,"r":0.9,"b":2.2},{"f":738,"g":1.9,"r":1.7,"b":0.9},{"f":747,"g":2.4,"r":0.5,"b":1.8},{"f":756,"g":1.1,"r":1.4,"b":2.6},{"f":765,"g":2.8,"r":2.3,"b":1.1},{"f":774,"g":1.5,"r":1,"b":2.3},{"f":783,"g":2.2,"r":1.8,"b":1.5},{"f":792,"g":0.9,"r":0.4,"b":2},{"f":801,"g":2.7,"r":1.5,"b":0.6},{"f":810,"g":1.4,"r":0.8,"b":2.4},{"f":819,"g":3,"r":2.1,"b":1.2},{"f":828,"g":1.7,"r":1.2,"b":1.9},{"f":837,"g":2.5,"r":0.6,"b":2.8},{"f":846,"g":1.2,"r":1.9,"b":1},{"f":855,"g":3.2,"r":1.1,"b":2.1},{"f":864,"g":1.8,"r":2.4,"b":1.6},{"f":873,"g":2.6,"r":0.7,"b":2.5},{"f":882,"g":1,"r":1.3,"b":0.8},{"f":891,"g":2.3,"r":0.5,"b":1.3}],
"fb":[{"r":"LGN","c":"s","lo":277,"hi":328,"m":304},{"r":"V1","c":"s","lo":271,"hi":335,"m":305},{"r":"AM-PM","c":"s","lo":279,"hi":351,"m":314},{"r":"DG","c":"s","lo":279,"hi":332,"m":310},{"r":"CA3","c":"s","lo":279,"hi":326,"m":302},{"r":"CA1","c":"s","lo":283,"hi":335,"m":314},{"r":"SUB","c":"s","lo":279,"hi":328,"m":302},{"r":"LGN","c":"c","lo":10,"hi":31,"m":21},{"r":"V1","c":"c","lo":0,"hi":5,"m":2},{"r":"AM-PM","c":"c","lo":1,"hi":8,"m":4},{"r":"DG","c":"c","lo":169,"hi":236,"m":203},{"r":"CA3","c":"c","lo":188,"hi":252,"m":222},{"r":"CA1","c":"c","lo":84,"hi":142,"m":117},{"r":"SUB","c":"c","lo":139,"hi":219,"m":182}],
"fgr":[{"r":"LGN","v":96},{"r":"V1","v":33},{"r":"AM-PM","v":55},{"r":"DG","v":244},{"r":"CA3","v":218},{"r":"CA1","v":221},{"r":"SUB","v":218}],
"fp":[{"r":"LGN","c":"s","k":1,"v":305},{"r":"LGN","c":"s","k":2,"v":262},{"r":"LGN","c":"s","k":3,"v":331},{"r":"LGN","c":"s","k":4,"v":290},{"r":"LGN","c":"s","k":5,"v":348},{"r":"LGN","c":"s","k":6,"v":276},{"r":"LGN","c":"s","k":7,"v":312},{"r":"LGN","c":"s","k":8,"v":298},{"r":"LGN","c":"s","k":9,"v":360},{"r":"LGN","c":"s","k":10,"v":284},{"r":"LGN","c":"s","k":11,"v":320},{"r":"LGN","c":"s","k":12,"v":250},{"r":"LGN","c":"s","k":13,"v":295},{"r":"LGN","c":"s","k":14,"v":338},
{"r":"V1","c":"s","k":1,"v":290},{"r":"V1","c":"s","k":2,"v":340},{"r":"V1","c":"s","k":3,"v":258},{"r":"V1","c":"s","k":4,"v":312},{"r":"V1","c":"s","k":5,"v":375},{"r":"V1","c":"s","k":6,"v":280},{"r":"V1","c":"s","k":7,"v":305},{"r":"V1","c":"s","k":8,"v":328},{"r":"V1","c":"s","k":9,"v":245},{"r":"V1","c":"s","k":10,"v":300},{"r":"V1","c":"s","k":11,"v":355},{"r":"V1","c":"s","k":12,"v":270},{"r":"V1","c":"s","k":13,"v":318},{"r":"V1","c":"s","k":14,"v":295},
{"r":"AM-PM","c":"s","k":1,"v":330},{"r":"AM-PM","c":"s","k":2,"v":272},{"r":"AM-PM","c":"s","k":3,"v":395},{"r":"AM-PM","c":"s","k":4,"v":300},{"r":"AM-PM","c":"s","k":5,"v":245},{"r":"AM-PM","c":"s","k":6,"v":352},{"r":"AM-PM","c":"s","k":7,"v":315},{"r":"AM-PM","c":"s","k":8,"v":285},{"r":"AM-PM","c":"s","k":9,"v":370},{"r":"AM-PM","c":"s","k":10,"v":260},{"r":"AM-PM","c":"s","k":11,"v":340},{"r":"AM-PM","c":"s","k":12,"v":308},{"r":"AM-PM","c":"s","k":13,"v":380},{"r":"AM-PM","c":"s","k":14,"v":290},
{"r":"DG","c":"s","k":1,"v":300},{"r":"DG","c":"s","k":2,"v":355},{"r":"DG","c":"s","k":3,"v":280},{"r":"DG","c":"s","k":4,"v":320},{"r":"DG","c":"s","k":5,"v":262},{"r":"DG","c":"s","k":6,"v":335},{"r":"DG","c":"s","k":7,"v":295},{"r":"DG","c":"s","k":8,"v":365},{"r":"DG","c":"s","k":9,"v":310},{"r":"DG","c":"s","k":10,"v":285},{"r":"DG","c":"s","k":11,"v":340},{"r":"DG","c":"s","k":12,"v":270},{"r":"DG","c":"s","k":13,"v":315},{"r":"DG","c":"s","k":14,"v":350},
{"r":"CA3","c":"s","k":1,"v":295},{"r":"CA3","c":"s","k":2,"v":330},{"r":"CA3","c":"s","k":3,"v":270},{"r":"CA3","c":"s","k":4,"v":355},{"r":"CA3","c":"s","k":5,"v":305},{"r":"CA3","c":"s","k":6,"v":285},{"r":"CA3","c":"s","k":7,"v":315},{"r":"CA3","c":"s","k":8,"v":260},{"r":"CA3","c":"s","k":9,"v":340},{"r":"CA3","c":"s","k":10,"v":300},{"r":"CA3","c":"s","k":11,"v":290},{"r":"CA3","c":"s","k":12,"v":325},{"r":"CA3","c":"s","k":13,"v":350},{"r":"CA3","c":"s","k":14,"v":280},
{"r":"CA1","c":"s","k":1,"v":320},{"r":"CA1","c":"s","k":2,"v":290},{"r":"CA1","c":"s","k":3,"v":375},{"r":"CA1","c":"s","k":4,"v":305},{"r":"CA1","c":"s","k":5,"v":335},{"r":"CA1","c":"s","k":6,"v":280},{"r":"CA1","c":"s","k":7,"v":350},{"r":"CA1","c":"s","k":8,"v":310},{"r":"CA1","c":"s","k":9,"v":395},{"r":"CA1","c":"s","k":10,"v":298},{"r":"CA1","c":"s","k":11,"v":325},{"r":"CA1","c":"s","k":12,"v":285},{"r":"CA1","c":"s","k":13,"v":340},{"r":"CA1","c":"s","k":14,"v":360},
{"r":"SUB","c":"s","k":1,"v":300},{"r":"SUB","c":"s","k":2,"v":335},{"r":"SUB","c":"s","k":3,"v":275},{"r":"SUB","c":"s","k":4,"v":360},{"r":"SUB","c":"s","k":5,"v":310},{"r":"SUB","c":"s","k":6,"v":290},{"r":"SUB","c":"s","k":7,"v":325},{"r":"SUB","c":"s","k":8,"v":265},{"r":"SUB","c":"s","k":9,"v":345},{"r":"SUB","c":"s","k":10,"v":305},{"r":"SUB","c":"s","k":11,"v":285},{"r":"SUB","c":"s","k":12,"v":330},{"r":"SUB","c":"s","k":13,"v":355},{"r":"SUB","c":"s","k":14,"v":295},
{"r":"LGN","c":"c","k":1,"v":22},{"r":"LGN","c":"c","k":2,"v":15},{"r":"LGN","c":"c","k":3,"v":35},{"r":"LGN","c":"c","k":4,"v":8},{"r":"LGN","c":"c","k":5,"v":28},{"r":"LGN","c":"c","k":6,"v":18},{"r":"LGN","c":"c","k":7,"v":45},{"r":"LGN","c":"c","k":8,"v":12},{"r":"LGN","c":"c","k":9,"v":25},{"r":"LGN","c":"c","k":10,"v":5},{"r":"LGN","c":"c","k":11,"v":30},{"r":"LGN","c":"c","k":12,"v":20},{"r":"LGN","c":"c","k":13,"v":60},{"r":"LGN","c":"c","k":14,"v":16},
{"r":"V1","c":"c","k":1,"v":2},{"r":"V1","c":"c","k":2,"v":1},{"r":"V1","c":"c","k":3,"v":4},{"r":"V1","c":"c","k":4,"v":0},{"r":"V1","c":"c","k":5,"v":3},{"r":"V1","c":"c","k":6,"v":1},{"r":"V1","c":"c","k":7,"v":2},{"r":"V1","c":"c","k":8,"v":5},{"r":"V1","c":"c","k":9,"v":1},{"r":"V1","c":"c","k":10,"v":3},{"r":"V1","c":"c","k":11,"v":0},{"r":"V1","c":"c","k":12,"v":2},{"r":"V1","c":"c","k":13,"v":4},{"r":"V1","c":"c","k":14,"v":1},
{"r":"AM-PM","c":"c","k":1,"v":4},{"r":"AM-PM","c":"c","k":2,"v":2},{"r":"AM-PM","c":"c","k":3,"v":6},{"r":"AM-PM","c":"c","k":4,"v":1},{"r":"AM-PM","c":"c","k":5,"v":8},{"r":"AM-PM","c":"c","k":6,"v":3},{"r":"AM-PM","c":"c","k":7,"v":5},{"r":"AM-PM","c":"c","k":8,"v":2},{"r":"AM-PM","c":"c","k":9,"v":7},{"r":"AM-PM","c":"c","k":10,"v":4},{"r":"AM-PM","c":"c","k":11,"v":1},{"r":"AM-PM","c":"c","k":12,"v":3},{"r":"AM-PM","c":"c","k":13,"v":6},{"r":"AM-PM","c":"c","k":14,"v":5},
{"r":"DG","c":"c","k":1,"v":210},{"r":"DG","c":"c","k":2,"v":180},{"r":"DG","c":"c","k":3,"v":240},{"r":"DG","c":"c","k":4,"v":165},{"r":"DG","c":"c","k":5,"v":195},{"r":"DG","c":"c","k":6,"v":225},{"r":"DG","c":"c","k":7,"v":135},{"r":"DG","c":"c","k":8,"v":205},{"r":"DG","c":"c","k":9,"v":185},{"r":"DG","c":"c","k":10,"v":250},{"r":"DG","c":"c","k":11,"v":170},{"r":"DG","c":"c","k":12,"v":215},{"r":"DG","c":"c","k":13,"v":150},{"r":"DG","c":"c","k":14,"v":198},
{"r":"CA3","c":"c","k":1,"v":225},{"r":"CA3","c":"c","k":2,"v":200},{"r":"CA3","c":"c","k":3,"v":250},{"r":"CA3","c":"c","k":4,"v":190},{"r":"CA3","c":"c","k":5,"v":240},{"r":"CA3","c":"c","k":6,"v":215},{"r":"CA3","c":"c","k":7,"v":260},{"r":"CA3","c":"c","k":8,"v":205},{"r":"CA3","c":"c","k":9,"v":235},{"r":"CA3","c":"c","k":10,"v":195},{"r":"CA3","c":"c","k":11,"v":220},{"r":"CA3","c":"c","k":12,"v":245},{"r":"CA3","c":"c","k":13,"v":210},{"r":"CA3","c":"c","k":14,"v":230},
{"r":"CA1","c":"c","k":1,"v":120},{"r":"CA1","c":"c","k":2,"v":95},{"r":"CA1","c":"c","k":3,"v":140},{"r":"CA1","c":"c","k":4,"v":70},{"r":"CA1","c":"c","k":5,"v":110},{"r":"CA1","c":"c","k":6,"v":160},{"r":"CA1","c":"c","k":7,"v":85},{"r":"CA1","c":"c","k":8,"v":130},{"r":"CA1","c":"c","k":9,"v":55},{"r":"CA1","c":"c","k":10,"v":115},{"r":"CA1","c":"c","k":11,"v":100},{"r":"CA1","c":"c","k":12,"v":145},{"r":"CA1","c":"c","k":13,"v":75},{"r":"CA1","c":"c","k":14,"v":105},
{"r":"SUB","c":"c","k":1,"v":180},{"r":"SUB","c":"c","k":2,"v":150},{"r":"SUB","c":"c","k":3,"v":210},{"r":"SUB","c":"c","k":4,"v":140},{"r":"SUB","c":"c","k":5,"v":260},{"r":"SUB","c":"c","k":6,"v":170},{"r":"SUB","c":"c","k":7,"v":195},{"r":"SUB","c":"c","k":8,"v":135},{"r":"SUB","c":"c","k":9,"v":225},{"r":"SUB","c":"c","k":10,"v":160},{"r":"SUB","c":"c","k":11,"v":185},{"r":"SUB","c":"c","k":12,"v":245},{"r":"SUB","c":"c","k":13,"v":155},{"r":"SUB","c":"c","k":14,"v":200}],
"gb":[{"r":"LGN","c":"s","lo":108,"hi":176,"m":148},{"r":"V1","c":"s","lo":0,"hi":6,"m":3},{"r":"AM-PM","c":"s","lo":6,"hi":43,"m":25},{"r":"DG","c":"s","lo":271,"hi":302,"m":289},{"r":"CA3","c":"s","lo":250,"hi":326,"m":289},{"r":"CA1","c":"s","lo":249,"hi":286,"m":271},{"r":"SUB","c":"s","lo":267,"hi":314,"m":293},{"r":"LGN","c":"c","lo":12,"hi":33,"m":25},{"r":"V1","c":"c","lo":0,"hi":3,"m":1},{"r":"AM-PM","c":"c","lo":2,"hi":15,"m":9},{"r":"DG","c":"c","lo":158,"hi":203,"m":182},{"r":"CA3","c":"c","lo":193,"hi":277,"m":220},{"r":"CA1","c":"c","lo":78,"hi":138,"m":111},{"r":"SUB","c":"c","lo":132,"hi":197,"m":166}],
"gp":[{"r":"LGN","c":"s","k":1,"v":150},{"r":"LGN","c":"s","k":2,"v":120},{"r":"LGN","c":"s","k":3,"v":175},{"r":"LGN","c":"s","k":4,"v":140},{"r":"LGN","c":"s","k":5,"v":110},{"r":"LGN","c":"s","k":6,"v":160},{"r":"LGN","c":"s","k":7,"v":220},{"r":"LGN","c":"s","k":8,"v":130},{"r":"LGN","c":"s","k":9,"v":185},{"r":"LGN","c":"s","k":10,"v":145},{"r":"LGN","c":"s","k":11,"v":115},{"r":"LGN","c":"s","k":12,"v":170},
{"r":"V1","c":"s","k":1,"v":3},{"r":"V1","c":"s","k":2,"v":1},{"r":"V1","c":"s","k":3,"v":5},{"r":"V1","c":"s","k":4,"v":2},{"r":"V1","c":"s","k":5,"v":4},{"r":"V1","c":"s","k":6,"v":6},{"r":"V1","c":"s","k":7,"v":2},{"r":"V1","c":"s","k":8,"v":3},{"r":"V1","c":"s","k":9,"v":1},{"r":"V1","c":"s","k":10,"v":5},{"r":"V1","c":"s","k":11,"v":4},{"r":"V1","c":"s","k":12,"v":2},
{"r":"AM-PM","c":"s","k":1,"v":25},{"r":"AM-PM","c":"s","k":2,"v":10},{"r":"AM-PM","c":"s","k":3,"v":40},{"r":"AM-PM","c":"s","k":4,"v":20},{"r":"AM-PM","c":"s","k":5,"v":70},{"r":"AM-PM","c":"s","k":6,"v":30},{"r":"AM-PM","c":"s","k":7,"v":15},{"r":"AM-PM","c":"s","k":8,"v":45},{"r":"AM-PM","c":"s","k":9,"v":22},{"r":"AM-PM","c":"s","k":10,"v":35},{"r":"AM-PM","c":"s","k":11,"v":8},{"r":"AM-PM","c":"s","k":12,"v":28},
{"r":"DG","c":"s","k":1,"v":285},{"r":"DG","c":"s","k":2,"v":300},{"r":"DG","c":"s","k":3,"v":270},{"r":"DG","c":"s","k":4,"v":320},{"r":"DG","c":"s","k":5,"v":290},{"r":"DG","c":"s","k":6,"v":280},{"r":"DG","c":"s","k":7,"v":310},{"r":"DG","c":"s","k":8,"v":295},{"r":"DG","c":"s","k":9,"v":275},{"r":"DG","c":"s","k":10,"v":305},{"r":"DG","c":"s","k":11,"v":288},{"r":"DG","c":"s","k":12,"v":298},
{"r":"CA3","c":"s","k":1,"v":285},{"r":"CA3","c":"s","k":2,"v":320},{"r":"CA3","c":"s","k":3,"v":260},{"r":"CA3","c":"s","k":4,"v":390},{"r":"CA3","c":"s","k":5,"v":300},{"r":"CA3","c":"s","k":6,"v":240},{"r":"CA3","c":"s","k":7,"v":330},{"r":"CA3","c":"s","k":8,"v":275},{"r":"CA3","c":"s","k":9,"v":310},{"r":"CA3","c":"s","k":10,"v":200},{"r":"CA3","c":"s","k":11,"v":295},{"r":"CA3","c":"s","k":12,"v":250},
{"r":"CA1","c":"s","k":1,"v":270},{"r":"CA1","c":"s","k":2,"v":255},{"r":"CA1","c":"s","k":3,"v":290},{"r":"CA1","c":"s","k":4,"v":245},{"r":"CA1","c":"s","k":5,"v":305},{"r":"CA1","c":"s","k":6,"v":265},{"r":"CA1","c":"s","k":7,"v":280},{"r":"CA1","c":"s","k":8,"v":250},{"r":"CA1","c":"s","k":9,"v":275},{"r":"CA1","c":"s","k":10,"v":260},{"r":"CA1","c":"s","k":11,"v":285},{"r":"CA1","c":"s","k":12,"v":240},
{"r":"SUB","c":"s","k":1,"v":290},{"r":"SUB","c":"s","k":2,"v":310},{"r":"SUB","c":"s","k":3,"v":275},{"r":"SUB","c":"s","k":4,"v":335},{"r":"SUB","c":"s","k":5,"v":300},{"r":"SUB","c":"s","k":6,"v":265},{"r":"SUB","c":"s","k":7,"v":320},{"r":"SUB","c":"s","k":8,"v":285},{"r":"SUB","c":"s","k":9,"v":295},{"r":"SUB","c":"s","k":10,"v":240},{"r":"SUB","c":"s","k":11,"v":305},{"r":"SUB","c":"s","k":12,"v":280},
{"r":"LGN","c":"c","k":1,"v":25},{"r":"LGN","c":"c","k":2,"v":15},{"r":"LGN","c":"c","k":3,"v":35},{"r":"LGN","c":"c","k":4,"v":10},{"r":"LGN","c":"c","k":5,"v":30},{"r":"LGN","c":"c","k":6,"v":20},{"r":"LGN","c":"c","k":7,"v":5},{"r":"LGN","c":"c","k":8,"v":28},{"r":"LGN","c":"c","k":9,"v":18},{"r":"LGN","c":"c","k":10,"v":38},{"r":"LGN","c":"c","k":11,"v":12},{"r":"LGN","c":"c","k":12,"v":22},
{"r":"V1","c":"c","k":1,"v":1},{"r":"V1","c":"c","k":2,"v":0},{"r":"V1","c":"c","k":3,"v":2},{"r":"V1","c":"c","k":4,"v":1},{"r":"V1","c":"c","k":5,"v":3},{"r":"V1","c":"c","k":6,"v":0},{"r":"V1","c":"c","k":7,"v":1},{"r":"V1","c":"c","k":8,"v":2},{"r":"V1","c":"c","k":9,"v":0},{"r":"V1","c":"c","k":10,"v":1},{"r":"V1","c":"c","k":11,"v":2},{"r":"V1","c":"c","k":12,"v":1},
{"r":"AM-PM","c":"c","k":1,"v":8},{"r":"AM-PM","c":"c","k":2,"v":3},{"r":"AM-PM","c":"c","k":3,"v":12},{"r":"AM-PM","c":"c","k":4,"v":5},{"r":"AM-PM","c":"c","k":5,"v":15},{"r":"AM-PM","c":"c","k":6,"v":2},{"r":"AM-PM","c":"c","k":7,"v":9},{"r":"AM-PM","c":"c","k":8,"v":6},{"r":"AM-PM","c":"c","k":9,"v":11},{"r":"AM-PM","c":"c","k":10,"v":4},{"r":"AM-PM","c":"c","k":11,"v":7},{"r":"AM-PM","c":"c","k":12,"v":10},
{"r":"DG","c":"c","k":1,"v":180},{"r":"DG","c":"c","k":2,"v":160},{"r":"DG","c":"c","k":3,"v":200},{"r":"DG","c":"c","k":4,"v":145},{"r":"DG","c":"c","k":5,"v":190},{"r":"DG","c":"c","k":6,"v":170},{"r":"DG","c":"c","k":7,"v":120},{"r":"DG","c":"c","k":8,"v":185},{"r":"DG","c":"c","k":9,"v":205},{"r":"DG","c":"c","k":10,"v":165},{"r":"DG","c":"c","k":11,"v":195},{"r":"DG","c":"c","k":12,"v":175},
{"r":"CA3","c":"c","k":1,"v":220},{"r":"CA3","c":"c","k":2,"v":200},{"r":"CA3","c":"c","k":3,"v":250},{"r":"CA3","c":"c","k":4,"v":180},{"r":"CA3","c":"c","k":5,"v":235},{"r":"CA3","c":"c","k":6,"v":150},{"r":"CA3","c":"c","k":7,"v":215},{"r":"CA3","c":"c","k":8,"v":270},{"r":"CA3","c":"c","k":9,"v":195},{"r":"CA3","c":"c","k":10,"v":240},{"r":"CA3","c":"c","k":11,"v":210},{"r":"CA3","c":"c","k":12,"v":225},
{"r":"CA1","c":"c","k":1,"v":110},{"r":"CA1","c":"c","k":2,"v":90},{"r":"CA1","c":"c","k":3,"v":130},{"r":"CA1","c":"c","k":4,"v":65},{"r":"CA1","c":"c","k":5,"v":160},{"r":"CA1","c":"c","k":6,"v":100},{"r":"CA1","c":"c","k":7,"v":75},{"r":"CA1","c":"c","k":8,"v":120},{"r":"CA1","c":"c","k":9,"v":60},{"r":"CA1","c":"c","k":10,"v":140},{"r":"CA1","c":"c","k":11,"v":95},{"r":"CA1","c":"c","k":12,"v":115},
{"r":"SUB","c":"c","k":1,"v":165},{"r":"SUB","c":"c","k":2,"v":140},{"r":"SUB","c":"c","k":3,"v":195},{"r":"SUB","c":"c","k":4,"v":125},{"r":"SUB","c":"c","k":5,"v":180},{"r":"SUB","c":"c","k":6,"v":100},{"r":"SUB","c":"c","k":7,"v":205},{"r":"SUB","c":"c","k":8,"v":150},{"r":"SUB","c":"c","k":9,"v":170},{"r":"SUB","c":"c","k":10,"v":135},{"r":"SUB","c":"c","k":11,"v":240},{"r":"SUB","c":"c","k":12,"v":160}]
},
"hconcat":[
{"vconcat":[
 {"vconcat":[
  {"width":190,"height":84,"title":{"text":"a","dx":-42,"dy":19},"data":{"name":"a"},"layer":[
   {"mark":{"type":"line","strokeWidth":1.3},"encoding":{"x":{"field":"f","type":"quantitative","scale":{"domain":[0,900]},"axis":{"values":[200,400,600,800],"title":"Frame #","titleFontSize":13,"labelPadding":5}},"y":{"field":"c","type":"quantitative","scale":{"domain":[-0.375,1.125]},"axis":{"values":[0,0.5,1],"format":"~g","title":["F2F image","correlation"]}},"color":{"datum":"Continuous","type":"nominal","scale":{"domain":["Continuous","Scrambled"],"range":["#FF7F7F","#7F7FFF"]},"legend":{"orient":"none","legendX":5,"legendY":-8,"direction":"horizontal","title":null,"symbolType":"stroke","symbolStrokeWidth":2,"symbolSize":90,"labelFontSize":10,"columnPadding":8}}}},
   {"mark":{"type":"line","strokeWidth":1},"encoding":{"x":{"field":"f","type":"quantitative"},"y":{"field":"s","type":"quantitative"},"color":{"datum":"Scrambled","type":"nominal"}}}]},
  {"width":190,"height":96,"title":{"text":"b","dx":-46,"dy":14},"layer":[
   {"data":{"name":"bv"},"mark":"bar","encoding":{"x":{"field":"r","type":"nominal","sort":null,"scale":{"domain":["LGN","V1","AM-PM","DG","CA3","CA1","SUB"],"paddingInner":0,"paddingOuter":0},"axis":{"title":null,"labelAngle":-20,"labelFontSize":11}},"xOffset":{"field":"k","type":"nominal","scale":{"domain":["ca","cm","sc"],"paddingInner":0.1,"paddingOuter":0.8}},"y":{"field":"v","type":"quantitative","scale":{"domain":[0,100]},"axis":{"values":[0,50,100],"title":["Visual tuning","(%)"],"titleFontSize":14,"titleLineHeight":16,"titlePadding":2,"labelPadding":1}},"color":{"field":"k","type":"nominal","scale":{"domain":["ca","cm","sc","ch"],"range":["#7F1416","#FF7F7F","#7F7FFF","#333333"]},"legend":{"orient":"none","legendX":-5,"legendY":-24,"direction":"horizontal","title":null,"labelFontSize":8,"symbolSize":90,"symbolType":"square","columnPadding":5,"labelExpr":"datum.value == 'ca' ? ['Continuous','(all trials)'] : datum.value == 'cm' ? ['Continuous','(middle','20 trials)'] : datum.value == 'sc' ? 'Scrambled' : 'Chance level'","encode":{"symbols":{"update":{"shape":{"signal":"datum.value == 'ch' ? 'stroke' : 'square'"},"stroke":{"signal":"datum.value == 'ch' ? '#333333' : 'transparent'"},"strokeWidth":{"signal":"datum.value == 'ch' ? 1.5 : 0"}}}}}}}},
   {"data":{"name":"bh"},"mark":"bar","encoding":{"x":{"field":"r","type":"nominal"},"xOffset":{"field":"k","type":"nominal"},"y":{"field":"v","type":"quantitative","scale":{"domain":[0,49.2]},"axis":{"orient":"right","values":[0,20,40],"title":["Hippocampal","tuning (%)"],"titleFontSize":14,"titleLineHeight":13,"titlePadding":2}},"color":{"field":"k","type":"nominal"}}},
   {"data":{"values":[{"r":"LGN"},{"r":"V1"},{"r":"AM-PM"}]},"mark":{"type":"tick","color":"#AAAAAA","thickness":2.5,"size":20},"encoding":{"x":{"field":"r","type":"nominal"},"y":{"datum":2,"type":"quantitative","scale":{"domain":[0,100]},"axis":null}}},
   {"data":{"values":[{"r":"DG"},{"r":"CA3"},{"r":"CA1"},{"r":"SUB"}]},"mark":{"type":"tick","filled":false,"stroke":"#333333","strokeWidth":1.2,"strokeDash":[5,3],"thickness":0.1,"size":27},"encoding":{"x":{"field":"r","type":"nominal"},"y":{"datum":2.05,"type":"quantitative","scale":{"domain":[0,49.2]},"axis":null}}},
   {"data":{"values":[{}]},"mark":{"type":"rule","color":"#B050C8","strokeDash":[5,2,1,2],"strokeWidth":1},"encoding":{"x":{"datum":"DG","type":"nominal","bandPosition":0}}}],
   "resolve":{"scale":{"y":"independent"}}}],
  "spacing":59,"bounds":"flush","resolve":{"scale":{"color":"independent","x":"independent","y":"independent","xOffset":"independent"}}},
 {"width":193,"height":237,"title":{"text":"c","dx":-43,"dy":16},"data":{"name":"c"},"mark":{"type":"line","strokeWidth":2.5},"encoding":{"x":{"field":"x","type":"quantitative","scale":{"domain":[-150,200]},"axis":{"values":[-100,0,100,200],"grid":true,"gridColor":"#E4E4E4","labelPadding":4,"titlePadding":4,"title":["Visual continuity index =","100 x (Zcontinuous - Zscrambled) /","max(Zcontinuous,Zscrambled) (%)"],"titleFontSize":12,"titleLineHeight":19}},"y":{"field":"p","type":"quantitative","scale":{"domain":[0,1]},"axis":{"values":[0,0.2,0.4,0.6,0.8,1],"format":"~g","grid":true,"gridColor":"#E4E4E4","title":"Probability"}},"color":{"field":"r","type":"nominal","scale":{"domain":["LGN","V1","AM-PM","DG","CA3","CA1","SUB"],"range":["#FF00FF","#FF0000","#FFAA00","#118811","#33FFFF","#0000FF","#9988CC"]},"legend":{"orient":"none","legendX":32,"legendY":7,"title":null,"symbolType":"stroke","symbolStrokeWidth":3.5,"symbolSize":100,"labelFontSize":10,"rowPadding":2}}}}],
 "spacing":-10,"resolve":{"scale":{"color":"independent","x":"independent","y":"independent","xOffset":"independent"}}},
{"vconcat":[
 {"hconcat":[
  {"vconcat":[
   {"width":194,"height":75,"title":{"text":"d","dx":-38,"dy":18},"data":{"name":"dgr"},"layer":[
    {"mark":{"type":"tick","orient":"horizontal","size":4,"thickness":2,"opacity":1},"encoding":{"x":{"field":"f","type":"quantitative","scale":{"domain":[0,900]},"axis":{"labels":false,"title":null}},"y":{"field":"t","type":"quantitative","scale":{"domain":[0,20]},"axis":{"values":[0,20],"title":"Trial #"}},"color":{"field":"f","type":"quantitative","scale":{"domain":[0,900],"range":["#00FFFF","#FF00FF"],"interpolate":"rgb"},"legend":null}}},
    {"mark":{"type":"point","opacity":0},"encoding":{"x":{"field":"f","type":"quantitative","axis":{"orient":"top","labels":false,"domain":false,"title":"DG","titleColor":"#1A8C1A","titleFontWeight":"bold","titleFontSize":12,"titlePadding":2}}}}],
    "resolve":{"axis":{"x":"independent"}}},
   {"width":194,"height":76,"data":{"name":"dr"},"mark":{"type":"line","color":"#128A12","strokeWidth":1},"encoding":{"x":{"field":"f","type":"quantitative","scale":{"domain":[0,900]},"axis":{"values":[400,800],"title":"Scrambled frame #","domain":false,"titlePadding":1}},"y":{"field":"dg","type":"quantitative","scale":{"domain":[0,34]},"axis":{"values":[0,24],"title":["Firing rate","(Hz)"],"titlePadding":1,"titleLineHeight":13,"titleColor":"#1A9A1A","labelColor":"#1A9A1A","domainColor":"#1A9A1A"}}}}],
   "spacing":7,"bounds":"flush","resolve":{"scale":{"color":"independent","x":"independent","y":"independent"}}},
  {"vconcat":[
   {"width":191,"height":75,"data":{"name":"car"},"layer":[
    {"mark":{"type":"tick","orient":"horizontal","size":4,"thickness":2,"opacity":1},"encoding":{"x":{"field":"f","type":"quantitative","scale":{"domain":[0,900]},"axis":{"labels":false,"title":null}},"y":{"field":"t","type":"quantitative","scale":{"domain":[0,20]},"axis":{"values":[0,20],"title":null}},"color":{"field":"f","type":"quantitative","scale":{"domain":[0,900],"range":["#00FFFF","#FF00FF"],"interpolate":"rgb"},"legend":null}}},
    {"mark":{"type":"point","opacity":0},"encoding":{"x":{"field":"f","type":"quantitative","axis":{"orient":"top","labels":false,"domain":false,"title":"CA1","titleColor":"#2222EE","titleFontWeight":"bold","titleFontSize":12,"titlePadding":2}}}}],
    "resolve":{"axis":{"x":"independent"}}},
   {"width":191,"height":76,"data":{"name":"dr"},"mark":{"type":"line","color":"#1010EE","strokeWidth":1},"encoding":{"x":{"field":"f","type":"quantitative","scale":{"domain":[0,900]},"axis":{"values":[400,800],"title":null,"domain":false}},"y":{"field":"ca","type":"quantitative","scale":{"domain":[0,39]},"axis":{"values":[0,29],"title":null,"labelColor":"#2222EE","domainColor":"#2222EE"}}}}],
   "spacing":7,"bounds":"flush","resolve":{"scale":{"color":"independent","x":"independent","y":"independent"}}}],
  "spacing":25,"resolve":{"scale":{"color":"independent","x":"independent","y":"independent"}}},
 {"vconcat":[
 {"hconcat":[
  {"width":194,"height":164,"title":{"text":"e","dx":-36,"dy":55},"data":{"name":"ev"},"layer":[
   {"mark":{"type":"line","strokeWidth":1.2},"encoding":{"x":{"field":"f","type":"quantitative","scale":{"domain":[0,900]},"axis":{"values":[400,800],"title":"Frame #","titleFontSize":13,"labelPadding":6,"titleColor":"#FF2020","labelColor":"#FF2020","domainColor":"#FF2020"}},"y":{"field":"g","type":"quantitative","scale":{"domain":[0,17.8]},"axis":{"values":[0,5,10,15],"title":"Firing rate (Hz)","titleColor":"#FF2020","labelColor":"#FF2020","domainColor":"#FF2020"}},"color":{"datum":"Scrambled - as is","type":"nominal","scale":{"domain":["Scrambled - as is","Continuous","Scrambled - rearranged"],"range":["#BBBBBB","#FF7F7F","#7F7FFF"]},"legend":{"orient":"none","legendX":74,"legendY":7,"title":null,"symbolType":"stroke","symbolStrokeWidth":2,"symbolSize":100,"labelFontSize":10,"rowPadding":2}}}},
   {"mark":{"type":"line","strokeWidth":1.2},"encoding":{"x":{"field":"f","type":"quantitative","axis":null},"y":{"field":"r","type":"quantitative"},"color":{"datum":"Continuous","type":"nominal"}}},
   {"mark":{"type":"line","strokeWidth":1.2},"encoding":{"x":{"field":"f","type":"quantitative","axis":null},"y":{"field":"b","type":"quantitative"},"color":{"datum":"Scrambled - rearranged","type":"nominal"}}},
   {"mark":{"type":"point","opacity":0},"encoding":{"x":{"field":"f","type":"quantitative","axis":{"orient":"top","labels":false,"domain":false,"title":"V1 r=0.86","titleColor":"#FF2020","titleFontWeight":"bold","titleFontSize":12,"titlePadding":1}}}}],
   "resolve":{"axis":{"x":"independent"}}},
  {"width":190,"height":172,"data":{"name":"ec"},"layer":[
   {"mark":{"type":"line","strokeWidth":1.2,"color":"#BBBBBB"},"encoding":{"x":{"field":"f","type":"quantitative","scale":{"domain":[0,900]},"axis":{"values":[400,800],"title":null,"labelPadding":6,"labelColor":"#3333EE","domainColor":"#3333EE"}},"y":{"field":"g","type":"quantitative","scale":{"domain":[0,8.44]},"axis":{"values":[0,2,4,6,8],"title":null,"labelColor":"#3333EE","domainColor":"#3333EE"}}}},
   {"mark":{"type":"line","strokeWidth":1.2,"color":"#FF7F7F"},"encoding":{"x":{"field":"f","type":"quantitative","axis":null},"y":{"field":"r","type":"quantitative"}}},
   {"mark":{"type":"line","strokeWidth":1.2,"color":"#7F7FFF"},"encoding":{"x":{"field":"f","type":"quantitative","axis":null},"y":{"field":"b","type":"quantitative"}}},
   {"mark":{"type":"point","opacity":0},"encoding":{"x":{"field":"f","type":"quantitative","axis":{"orient":"top","labels":false,"domain":false,"title":"CA1 r=0.11","titleColor":"#2222EE","titleFontWeight":"bold","titleFontSize":12,"titlePadding":1}}}}],
   "resolve":{"axis":{"x":"independent"}}}],
  "spacing":43,"bounds":"flush","resolve":{"scale":{"color":"independent","x":"independent","y":"independent"}}},
 {"hconcat":[
  {"width":195,"height":109,"title":{"text":"f","dx":-33,"dy":27},"layer":[
   {"data":{"name":"fb"},"mark":{"type":"rect","stroke":"#555555","strokeWidth":0.8},"encoding":{"x":{"field":"r","type":"nominal","scale":{"domain":["LGN","V1","AM-PM","DG","CA3","CA1","SUB"],"paddingInner":0.15,"paddingOuter":0.1},"axis":{"title":null,"labelAngle":-20,"labelPadding":6}},"y":{"field":"lo","type":"quantitative","scale":{"domain":[0,400]},"axis":{"values":[0,100,200,300,400],"title":["Decoding error","(# frames)"],"titleFontSize":11,"titleLineHeight":12,"titlePadding":3}},"y2":{"field":"hi"},"fill":{"field":"c","type":"nominal","scale":{"domain":["c","s"],"range":["#EBD3D3","#E6E6E6"]},"legend":null}}},
   {"data":{"name":"fp"},"mark":{"type":"circle","size":7,"opacity":0.9},"encoding":{"x":{"field":"r","type":"nominal"},"xOffset":{"field":"k","type":"nominal"},"y":{"field":"v","type":"quantitative"},"color":{"field":"c","type":"nominal","scale":{"domain":["c","s","g"],"range":["#8B1A1A","#BBBBBB","#77DD33"]},"legend":{"orient":"none","legendX":2,"legendY":-31,"direction":"horizontal","title":null,"labelFontSize":9,"columnPadding":6,"symbolType":"stroke","symbolStrokeWidth":3,"symbolSize":120,"labelExpr":"datum.value == 'c' ? ['Continuous','(all trials,','all cells)'] : datum.value == 's' ? 'Shuffle' : ['Continuous','(all trials,','150 cells)']","encode":{"symbols":{"update":{"shape":{"signal":"datum.value == 'g' ? 'circle' : 'stroke'"},"size":{"signal":"datum.value == 'g' ? 80 : 120"},"fill":{"signal":"datum.value == 'g' ? '#77DD33' : 'transparent'"},"stroke":{"signal":"datum.value == 's' ? '#BBBBBB' : datum.value == 'c' ? '#8B1A1A' : 'transparent'"},"strokeWidth":{"value":3},"opacity":{"value":1}}}}}}}},
   {"data":{"name":"fb"},"mark":{"type":"tick","thickness":2.5,"size":23},"encoding":{"x":{"field":"r","type":"nominal"},"y":{"field":"m","type":"quantitative"},"color":{"field":"c","type":"nominal"}}},
   {"data":{"name":"fgr"},"mark":{"type":"circle","size":75,"opacity":1},"encoding":{"x":{"field":"r","type":"nominal"},"y":{"field":"v","type":"quantitative"},"color":{"datum":"g","type":"nominal"}}}]},
  {"width":193,"height":109,"title":{"text":"g","dx":-32,"dy":-2},"layer":[
   {"data":{"name":"gb"},"mark":{"type":"rect","stroke":"#555555","strokeWidth":0.8},"encoding":{"x":{"field":"r","type":"nominal","scale":{"domain":["LGN","V1","AM-PM","DG","CA3","CA1","SUB"],"paddingInner":0.15,"paddingOuter":0.1},"axis":{"title":null,"labelAngle":-20,"labelPadding":6}},"y":{"field":"lo","type":"quantitative","scale":{"domain":[0,400]},"axis":{"values":[0,100,200,300,400],"title":null}},"y2":{"field":"hi"},"fill":{"field":"c","type":"nominal","scale":{"domain":["c","s"],"range":["#F9DADA","#DCDCF8"]},"legend":null}}},
   {"data":{"name":"gp"},"mark":{"type":"circle","size":7,"opacity":0.9},"encoding":{"x":{"field":"r","type":"nominal"},"xOffset":{"field":"k","type":"nominal"},"y":{"field":"v","type":"quantitative"},"color":{"field":"c","type":"nominal","scale":{"domain":["c","s"],"range":["#F26060","#5A5AEE"]},"legend":{"orient":"none","legendX":-4,"legendY":-20,"direction":"horizontal","title":null,"labelFontSize":9,"columnPadding":10,"symbolType":"stroke","symbolStrokeWidth":3,"symbolSize":120,"labelExpr":"datum.value == 'c' ? 'Continuous (middle 20 trials)' : 'Scrambled'","encode":{"symbols":{"update":{"stroke":{"signal":"datum.value == 'c' ? '#FF7F7F' : '#7F7FFF'"},"strokeWidth":{"value":3},"opacity":{"value":1}}}}}}}},
   {"data":{"name":"gb"},"mark":{"type":"tick","thickness":2.5,"size":23},"encoding":{"x":{"field":"r","type":"nominal"},"y":{"field":"m","type":"quantitative"},"color":{"field":"c","type":"nominal"}}}]}],
  "spacing":41,"bounds":"flush","resolve":{"scale":{"color":"independent","fill":"independent","x":"independent","y":"independent","xOffset":"independent"}}}],
 "spacing":-1,"resolve":{"scale":{"color":"independent","fill":"independent","x":"independent","y":"independent","xOffset":"independent"}}}],
 "spacing":12,"resolve":{"scale":{"color":"independent","fill":"independent","x":"independent","y":"independent","xOffset":"independent"}}}],
"spacing":-14,"resolve":{"scale":{"color":"independent","fill":"independent","x":"independent","y":"independent","xOffset":"independent"}}}
